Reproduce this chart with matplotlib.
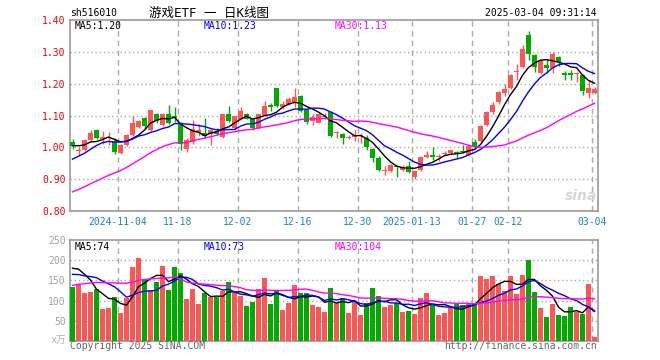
"""
Daily K-line chart for sh516010 (game ETF) with MA5/MA10/MA30 and volume.
"""

import math

import numpy as np
import pandas as pd
import matplotlib
matplotlib.use("Agg")
import matplotlib.pyplot as plt

plt.rcParams['font.family'] = ['DejaVu Sans Mono', 'Noto Sans CJK SC']

# --- data (2024-10-23 .. 2025-03-04, 88 trading days) ---
open_ = [1.016, 0.988, 0.991, 1.023, 1.054, 1.025, 1.028, 1.020, 0.981, 1.008,
         1.039, 1.064, 1.091, 1.055, 1.105, 1.071, 1.104, 1.098, 1.075, 0.995,
         1.016, 1.045, 1.046, 1.041, 1.051, 1.032, 1.104, 1.060, 1.090, 1.106,
         1.089, 1.062, 1.102, 1.130, 1.185, 1.128, 1.137, 1.140, 1.160, 1.116,
         1.083, 1.078, 1.094, 1.112, 1.044, 1.041, 1.030, 1.034, 1.036, 1.030,
         0.994, 0.968, 0.925, 0.925, 0.941, 0.930, 0.940, 0.906, 0.930, 0.971,
         0.974, 0.969, 0.978, 0.981, 0.986, 0.988, 0.977, 1.016, 1.021, 1.070,
         1.112, 1.141, 1.172, 1.185, 1.237, 1.252, 1.352, 1.289, 1.234, 1.260,
         1.250, 1.284, 1.232, 1.234, 1.230, 1.226, 1.172, 1.172]
high = [1.025, 1.000, 1.026, 1.053, 1.057, 1.052, 1.048, 1.030, 1.010, 1.041,
        1.100, 1.085, 1.094, 1.117, 1.108, 1.107, 1.132, 1.128, 1.080, 1.028,
        1.085, 1.073, 1.092, 1.058, 1.060, 1.106, 1.130, 1.100, 1.127, 1.109,
        1.092, 1.106, 1.144, 1.139, 1.187, 1.145, 1.158, 1.186, 1.165, 1.119,
        1.104, 1.108, 1.107, 1.115, 1.050, 1.044, 1.040, 1.056, 1.046, 1.040,
        0.997, 0.972, 0.940, 0.947, 0.946, 0.944, 0.958, 0.928, 0.973, 0.987,
        1.000, 0.979, 0.989, 0.993, 0.988, 1.007, 1.006, 1.026, 1.070, 1.114,
        1.142, 1.178, 1.198, 1.229, 1.262, 1.323, 1.365, 1.294, 1.276, 1.276,
        1.298, 1.286, 1.240, 1.244, 1.237, 1.229, 1.212, 1.190]
low = [0.994, 0.976, 0.988, 1.020, 1.026, 1.012, 1.008, 0.980, 0.978, 1.005,
       1.036, 1.060, 1.058, 1.050, 1.078, 1.068, 1.072, 1.080, 0.993, 0.985,
       1.012, 1.035, 1.030, 1.008, 1.038, 1.030, 1.080, 1.056, 1.087, 1.088,
       1.056, 1.058, 1.098, 1.115, 1.126, 1.120, 1.132, 1.127, 1.110, 1.074,
       1.070, 1.075, 1.088, 1.032, 1.030, 1.012, 1.025, 1.020, 1.015, 0.992,
       0.955, 0.925, 0.912, 0.922, 0.908, 0.926, 0.918, 0.899, 0.926, 0.965,
       0.960, 0.958, 0.975, 0.978, 0.966, 0.982, 0.975, 1.000, 1.018, 1.067,
       1.105, 1.137, 1.161, 1.182, 1.210, 1.250, 1.273, 1.236, 1.231, 1.235,
       1.234, 1.256, 1.213, 1.213, 1.205, 1.165, 1.155, 1.168]
close = [1.003, 0.990, 1.023, 1.046, 1.030, 1.032, 1.031, 0.985, 1.008, 1.039,
         1.076, 1.083, 1.066, 1.116, 1.083, 1.105, 1.076, 1.092, 1.012, 1.023,
         1.057, 1.053, 1.036, 1.055, 1.042, 1.104, 1.083, 1.098, 1.114, 1.090,
         1.060, 1.104, 1.130, 1.128, 1.130, 1.137, 1.153, 1.158, 1.115, 1.080,
         1.096, 1.104, 1.100, 1.037, 1.047, 1.028, 1.033, 1.038, 1.039, 1.002,
         0.966, 0.930, 0.928, 0.945, 0.938, 0.939, 0.922, 0.927, 0.970, 0.975,
         0.971, 0.972, 0.982, 0.991, 0.983, 0.984, 1.005, 1.003, 1.068, 1.112,
         1.133, 1.174, 1.182, 1.227, 1.240, 1.310, 1.294, 1.252, 1.273, 1.248,
         1.294, 1.269, 1.226, 1.227, 1.235, 1.177, 1.186, 1.183]
volume = [134, 140, 118, 121, 128, 79, 81, 108, 69, 107,
          183, 205, 152, 126, 146, 185, 126, 183, 168, 103,
          129, 91, 118, 109, 109, 125, 146, 118, 111, 86,
          96, 128, 156, 91, 123, 76, 94, 138, 118, 118,
          89, 84, 71, 132, 95, 107, 69, 98, 64, 94,
          132, 111, 84, 89, 94, 71, 74, 66, 106, 120,
          92, 64, 69, 81, 91, 89, 94, 91, 160, 154,
          160, 141, 123, 160, 116, 163, 200, 122, 82, 60,
          92, 64, 63, 83, 73, 66, 140, 9]

# 29 sessions before the window, estimated from where the MA lines start
pre_close = [0.76, 0.77, 0.76, 0.77, 0.77, 0.76, 0.77, 0.77,
             0.75, 0.74, 0.74, 0.73, 0.74,
             0.79, 0.83, 0.88, 0.93, 1.00,
             1.02, 0.89,
             0.90, 0.93, 0.92, 0.91, 0.945,
             0.99, 1.01, 1.00, 1.022]
pre_volume = [70, 75, 72, 80,
              95, 100, 105, 98, 102, 97,
              80, 85, 90, 115, 130, 130, 133,
              300, 330, 203,
              145, 150, 140, 155, 160,
              150, 183, 191, 242]

tick_idx = [8, 18, 28, 38, 48, 57, 67, 73, 87]
tick_labels = ['2024-11-04', '11-18', '12-02', '12-16', '12-30',
               '2025-01-13', '01-27', '02-12', '03-04']

RED = '#ff5555'
GREEN = '#00aa00'
MA_COLORS = {5: 'black', 10: '#0000ff', 30: '#ff00ff'}
GRID = '#aaaaaa'

W, H = 660, 360


def fx(px):
    return px / W


def fy(py):
    return 1 - py / H


def floor2(v, nd):
    f = 10 ** nd
    return math.floor(v * f + 1e-9) / f


def main():
    o = np.array(open_)
    c = np.array(close)
    hi = np.array(high)
    lo = np.array(low)
    v = np.array(volume, dtype=float)
    n = len(c)
    x = np.arange(n)
    npre = len(pre_close)

    cs = pd.Series(pre_close + close)
    vs = pd.Series(pre_volume + volume, dtype=float)
    price_ma = {k: cs.rolling(k).mean().values[npre:] for k in (5, 10, 30)}
    vol_ma = {k: vs.rolling(k).mean().values[npre:] for k in (5, 10, 30)}

    colors = np.where(c >= o, RED, GREEN)
    half = 5 / 12

    fig = plt.figure(figsize=(W / 100, H / 100), dpi=100)
    ax1 = fig.add_axes([fx(70), fy(211), fx(528), 191 / H])
    ax2 = fig.add_axes([fx(70), fy(341), fx(528), 101 / H])

    # --- candles ---
    ax1.vlines(x, lo, hi, colors=colors, lw=1, zorder=3)
    body_h = np.maximum(np.abs(c - o), 0.0035)
    ax1.bar(x, body_h, bottom=np.minimum(o, c), width=2 * half,
            color=colors, linewidth=0, zorder=4)
    for k, col in MA_COLORS.items():
        ax1.plot(x, price_ma[k], color=col, lw=1, zorder=5)

    # --- volume ---
    ax2.bar(x, v, width=2 * half, color=colors, linewidth=0, zorder=3)
    for k, col in MA_COLORS.items():
        ax2.plot(x, vol_ma[k], color=col, lw=1, zorder=5)

    for ax in (ax1, ax2):
        ax.set_xlim(-half, n - half)
        for i in tick_idx:
            ax.axvline(i - half, color=GRID, lw=1, ls=(0, (4, 3)), zorder=1)
        for s in ax.spines.values():
            s.set_color('#999999')
            s.set_linewidth(1.2)
        ax.tick_params(length=0, labelsize=7)

    ax1.set_ylim(0.80, 1.40)
    price_ticks = [0.80, 0.90, 1.00, 1.10, 1.20, 1.30, 1.40]
    ax1.set_yticks(price_ticks)
    ax1.set_yticklabels([f'{t:.2f}' for t in price_ticks], color='#ee0000')
    for t in price_ticks[1:-1]:
        ax1.axhline(t, color=GRID, lw=1, ls=(0, (1, 2)), zorder=1)
    ax1.set_xticks(np.array(tick_idx) - half)
    ax1.set_xticklabels(tick_labels, color='#1a80d8')
    ax1.tick_params(axis='x', pad=4)
    ax1.tick_params(axis='y', pad=3)

    ax2.set_ylim(0, 250)
    vol_ticks = [50, 100, 150, 200, 250]
    ax2.set_yticks(vol_ticks)
    ax2.set_yticklabels([str(t) for t in vol_ticks], color='#a0a0a0')
    for t in vol_ticks[:-1]:
        ax2.axhline(t, color=GRID, lw=1, ls=(0, (1, 2)), zorder=1)
    ax2.set_xticks([])
    ax2.tick_params(axis='y', pad=3)
    fig.text(fx(66), fy(340), 'x万', color='#b0b0b0', fontsize=7,
             ha='right', va='center')

    # --- legends ---
    legend_x = {5: 75, 10: 204, 30: 335}
    for k, col in MA_COLORS.items():
        fig.text(fx(legend_x[k]), fy(26), f'MA{k}:{floor2(price_ma[k][-1], 2):.2f}',
                 color=col, fontsize=7, va='center', ha='left')
        fig.text(fx(legend_x[k]), fy(246.5), f'MA{k}:{int(vol_ma[k][-1])}',
                 color=col, fontsize=7, va='center', ha='left')

    # --- titles and footer ---
    fig.text(fx(70), fy(13.5), 'sh516010', fontsize=7, va='center', ha='left')
    fig.text(fx(209), fy(13), '游戏ETF 一 日K线图', fontsize=9,
             va='center', ha='center')
    fig.text(fx(597), fy(13.5), '2025-03-04 09:31:14', fontsize=7,
             va='center', ha='right')
    fig.text(fx(70), fy(346), 'Copyright 2025 SINA.COM', fontsize=7,
             color='#666666', va='center', ha='left')
    fig.text(fx(597), fy(346), 'http://finance.sina.com.cn', fontsize=7,
             color='#666666', va='center', ha='right')
    fig.text(fx(581), fy(196), 'sina', fontsize=10, color='#d6d6d6',
             style='italic', weight='bold', va='center', ha='center',
             family='DejaVu Sans')

    fig.savefig('out.png', dpi=100)
    plt.close(fig)


if __name__ == "__main__":
    main()
